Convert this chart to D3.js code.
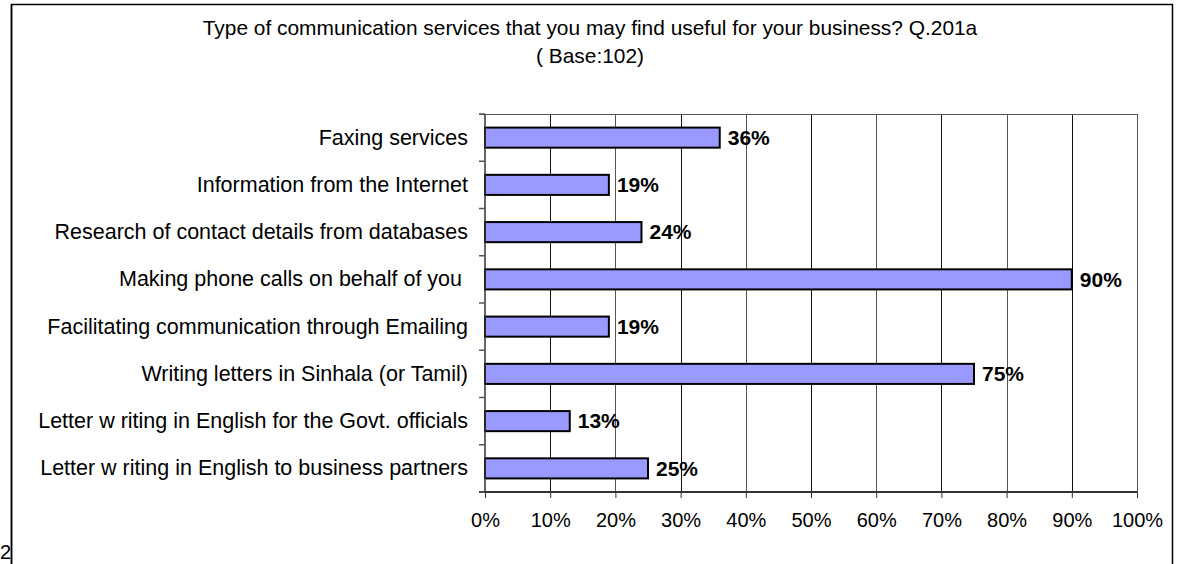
<!DOCTYPE html>
<html>
<head>
<meta charset="utf-8">
<script src="https://cdn.jsdelivr.net/npm/d3@7"></script>
<style>
  html, body { margin: 0; padding: 0; background: #fff; }
  svg { display: block; font-family: Arial, "Liberation Sans", sans-serif; }
</style>
</head>
<body>
<svg id="chart" width="1180" height="564"></svg>
<script>
// Survey answers, top to bottom
const categories = [
  "Faxing services",
  "Information from the Internet",
  "Research of contact details from databases",
  "Making phone calls on behalf of you ",
  "Facilitating communication through Emailing",
  "Writing letters in Sinhala (or Tamil)",
  "Letter w riting in English for the Govt. officials",
  "Letter w riting in English to business partners"
];
const values = [36, 19, 24, 90, 19, 75, 13, 25];
const tickValues = [0, 10, 20, 30, 40, 50, 60, 70, 80, 90, 100];
const titleLines = [
  "Type of communication services that you may find useful for your business? Q.201a",
  "( Base:102)"
];

const svg = d3.select("#chart");
const W = 1180, H = 564;

// outer frame (bottom edge runs past the page)
svg.append("rect")
  .attr("x", 11.5).attr("y", 4.5)
  .attr("width", 1161).attr("height", 600)
  .attr("fill", "#fff").attr("stroke", "#000").attr("stroke-width", 1.5);

// stray page number peeking from beneath the frame
svg.append("text")
  .attr("x", 0).attr("y", 559)
  .attr("font-size", 20).attr("fill", "#000")
  .text("2");
svg.append("line")
  .attr("x1", 11.5).attr("x2", 11.5).attr("y1", 4.5).attr("y2", H)
  .attr("stroke", "#000").attr("stroke-width", 1.5);

const plotL = 485, plotR = 1137, plotT = 114, plotB = 492;

const x = d3.scaleLinear().domain([0, 100]).range([plotL, plotR]);
const y = d3.scaleBand().domain(categories).range([plotT, plotB]).paddingInner(0.575).paddingOuter(0.2875);

// title
svg.append("g").selectAll("text").data(titleLines).join("text")
  .attr("x", 590).attr("y", (d, i) => 35 + i * 28)
  .attr("text-anchor", "middle")
  .attr("font-size", 20.9).attr("fill", "#000")
  .text(d => d);

// vertical gridlines
svg.append("g").selectAll("line").data(tickValues.slice(1)).join("line")
  .attr("x1", d => Math.round(x(d)) + 0.5).attr("x2", d => Math.round(x(d)) + 0.5)
  .attr("y1", plotT).attr("y2", plotB)
  .attr("stroke", (d, i) => i % 2 ? "#555" : "#111").attr("stroke-width", 1);

// top edge of plot area
svg.append("line")
  .attr("x1", plotL - 6).attr("x2", plotR + 0.5)
  .attr("y1", plotT + 0.5).attr("y2", plotT + 0.5)
  .attr("stroke", "#555").attr("stroke-width", 1);

// bars
svg.append("g").selectAll("rect").data(values).join("rect")
  .attr("x", x(0))
  .attr("y", (d, i) => y(categories[i]))
  .attr("width", d => x(d) - x(0))
  .attr("height", y.bandwidth())
  .attr("fill", "#9999FF")
  .attr("stroke", "#000").attr("stroke-width", 2);

// value labels
svg.append("g").selectAll("text").data(values).join("text")
  .attr("x", d => x(d) + 8)
  .attr("y", (d, i) => y(categories[i]) + y.bandwidth() / 2)
  .attr("dy", "0.35em")
  .attr("font-size", 21).attr("font-weight", "bold").attr("fill", "#000")
  .text(d => d + "%");

// x axis
const xAxis = svg.append("g").attr("transform", `translate(0,${plotB})`)
  .call(d3.axisBottom(x).tickValues(tickValues).tickFormat(d => d + "%").tickSize(6).tickPadding(15));
xAxis.select(".domain").attr("stroke", "#333").attr("stroke-width", 2).attr("d", `M${plotL - 6},0H${plotR}`);
xAxis.selectAll(".tick line").attr("stroke", "#333");
xAxis.selectAll(".tick text").attr("font-size", 20).attr("fill", "#000")
  .attr("font-family", "Arial, 'Liberation Sans', sans-serif");

// y axis: line, ticks between categories and labels
const yLine = svg.append("g");
yLine.append("line")
  .attr("x1", plotL).attr("x2", plotL).attr("y1", plotT).attr("y2", plotB)
  .attr("stroke", "#333").attr("stroke-width", 1.5);
const boundaries = d3.range(categories.length + 1).map(i => plotT + i * (plotB - plotT) / categories.length);
yLine.selectAll("line.tk").data(boundaries).join("line").attr("class", "tk")
  .attr("x1", plotL - 6).attr("x2", plotL)
  .attr("y1", d => d).attr("y2", d => d)
  .attr("stroke", "#555").attr("stroke-width", 1.5);

svg.append("g").selectAll("text").data(categories).join("text")
  .attr("x", plotL - 17)
  .attr("y", d => y(d) + y.bandwidth() / 2)
  .attr("dy", "0.33em")
  .attr("text-anchor", "end")
  .attr("font-size", 21.5).attr("fill", "#000")
  .style("white-space", "pre")
  .text(d => d);
</script>
</body>
</html>
